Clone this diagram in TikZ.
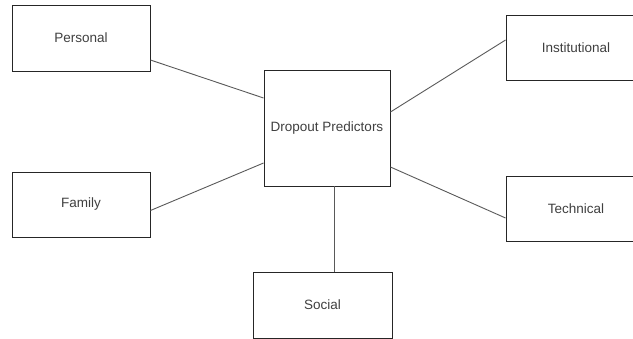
\documentclass[tikz,border=0pt]{standalone}
\usepackage{fontspec}
\setmainfont{Liberation Sans}
\begin{document}
\begin{tikzpicture}[x=1pt,y=-1pt,
  box/.style={draw=black!85, line width=0.9pt, fill=white, inner sep=0pt,
    font=\fontsize{13.5}{16}\selectfont, text=black!75},
  link/.style={draw=black!65, line width=0.9pt}]
\useasboundingbox (0,0) rectangle (633,338);
\clip (0,0) rectangle (633,338);
\node[box, minimum width=126pt, minimum height=116pt] (dp) at (327,128) {Dropout Predictors};
\node[box, minimum width=138pt, minimum height=66pt] (pers) at (81,38) {Personal};
\node[box, minimum width=138pt, minimum height=65pt] (fam) at (81,204.5) {Family};
\node[box, minimum width=140pt, minimum height=65pt] (inst) at (576,48) {Institutional};
\node[box, minimum width=140pt, minimum height=65pt] (tech) at (576,208.5) {Technical};
\node[box, minimum width=139pt, minimum height=66pt] (soc) at (322.5,305) {Social};
\draw[link] ([yshift=-22pt]pers.east) -- ([yshift=30pt]dp.west);
\draw[link] ([yshift=-6pt]fam.east) -- ([yshift=-35pt]dp.west);
\draw[link] ([yshift=8pt]inst.west) -- ([yshift=16pt]dp.east);
\draw[link] ([yshift=-9.5pt]tech.west) -- ([yshift=-39pt]dp.east);
\draw[link] ([xshift=11.5pt]soc.north) -- ([xshift=7pt]dp.south);
\end{tikzpicture}
\end{document}
